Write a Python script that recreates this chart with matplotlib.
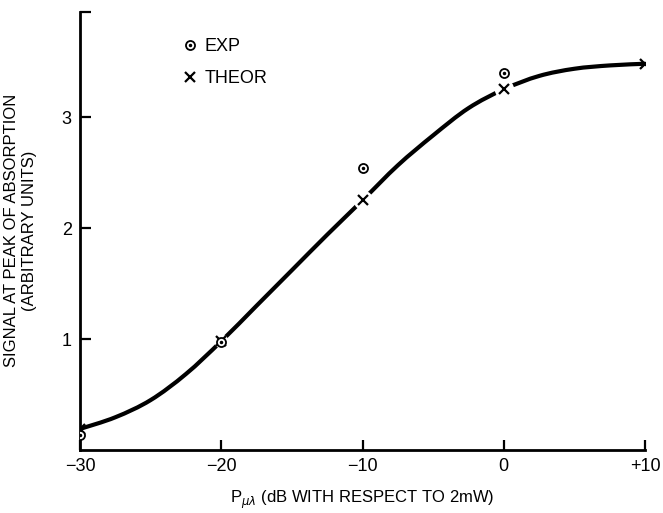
import matplotlib
matplotlib.use("Agg")
from matplotlib import pyplot as plt
from matplotlib.lines import Line2D
from matplotlib.legend_handler import HandlerTuple
from matplotlib.path import Path
from matplotlib.patches import PathPatch

plt.rcParams['font.family'] = ['Liberation Sans', 'DejaVu Sans']

# power in dB re 2 mW
p_db = [-30, -20, -10, 0, 10]
exp_db = [-30, -20, -10, 0]
exp_vals = [0.135, 0.97, 2.54, 3.40]
theor_vals = [0.19, 0.98, 2.25, 3.25, 3.48]

# theoretical curve
curve_db = [-30, -27.5, -25, -22.5, -20, -17.5, -15, -12.5, -10, -7.5,
            -5, -2.5, 0, 2.5, 5, 7.5, 10]
curve_vals = [0.19, 0.295, 0.45, 0.685, 0.98, 1.30, 1.62, 1.94, 2.25, 2.565,
              2.835, 3.08, 3.25, 3.37, 3.435, 3.465, 3.48]

xtick_labels = ['\u221230', '\u221220', '\u221210', '0', '+10']
ytick_vals = [1, 2, 3]


def smooth_path(xs, ys):
    # catmull-rom through the read points, drawn as bezier segments
    verts = [(xs[0], ys[0])]
    codes = [Path.MOVETO]
    n = len(xs)
    for i in range(n - 1):
        x0, y0 = (xs[i - 1], ys[i - 1]) if i > 0 else (xs[i], ys[i])
        x1, y1 = xs[i], ys[i]
        x2, y2 = xs[i + 1], ys[i + 1]
        x3, y3 = (xs[i + 2], ys[i + 2]) if i + 2 < n else (x2, y2)
        verts += [(x1 + (x2 - x0) / 6, y1 + (y2 - y0) / 6),
                  (x2 - (x3 - x1) / 6, y2 - (y3 - y1) / 6),
                  (x2, y2)]
        codes += [Path.CURVE4] * 3
    return Path(verts, codes)


fig = plt.figure(figsize=(6.63, 5.13), dpi=100)
ax = fig.add_axes([0.1207, 0.1228, 0.8522, 0.8546])

ax.add_patch(PathPatch(smooth_path(curve_db, curve_vals), fill=False, lw=3.0,
                       edgecolor='black', capstyle='round', zorder=2))
# white blobs under the theory marks make the gaps in the curve
ax.plot(p_db[2:4], theor_vals[2:4], ls='none', marker='o', ms=14, mfc='white', mec='none', zorder=3)
ax.plot(p_db[1:2], theor_vals[1:2], ls='none', marker='o', ms=10, mfc='white', mec='none', zorder=3)
ax.plot(p_db, theor_vals, ls='none', marker='x', ms=7.5, mew=1.6, color='black', zorder=4)
ax.plot(exp_db, exp_vals, ls='none', marker='o', ms=6.5, mfc='white', mec='black', mew=1.3, zorder=5)
ax.plot(exp_db, exp_vals, ls='none', marker='o', ms=1.5, color='black', zorder=6)

ax.set_xlim(-30, 10)
ax.set_ylim(0, 3.95)
ax.set_xticks(p_db)
ax.set_xticklabels(xtick_labels)
ax.set_yticks(ytick_vals)
ax.set_yticks([3.95], minor=True)
ax.tick_params(axis='both', which='both', direction='in', width=1.6, labelsize=13, pad=6)
ax.tick_params(axis='y', which='both', length=8)
ax.tick_params(axis='x', length=7)

for side in ['top', 'right']:
    ax.spines[side].set_visible(False)
for side in ['left', 'bottom']:
    ax.spines[side].set_linewidth(2)

ax.set_xlabel('P$_{\\mu\\lambda}$ (dB WITH RESPECT TO 2mW)', fontsize=12, labelpad=10)
ax.set_ylabel('SIGNAL AT PEAK OF ABSORPTION\n(ARBITRARY UNITS)', fontsize=12, labelpad=18)

h_exp = (Line2D([], [], ls='none', marker='o', ms=6.5, mfc='white', mec='black', mew=1.3),
         Line2D([], [], ls='none', marker='o', ms=1.5, color='black'))
h_th = Line2D([], [], ls='none', marker='x', ms=7.5, mew=1.6, color='black')
ax.legend([h_exp, h_th], ['EXP', 'THEOR'], handler_map={tuple: HandlerTuple(ndivide=1)},
          loc='upper left', bbox_to_anchor=(0.15, 0.977), frameon=False, fontsize=13,
          handlelength=1.0, handletextpad=0.3, labelspacing=0.85)

fig.savefig('out.png', dpi=100)
